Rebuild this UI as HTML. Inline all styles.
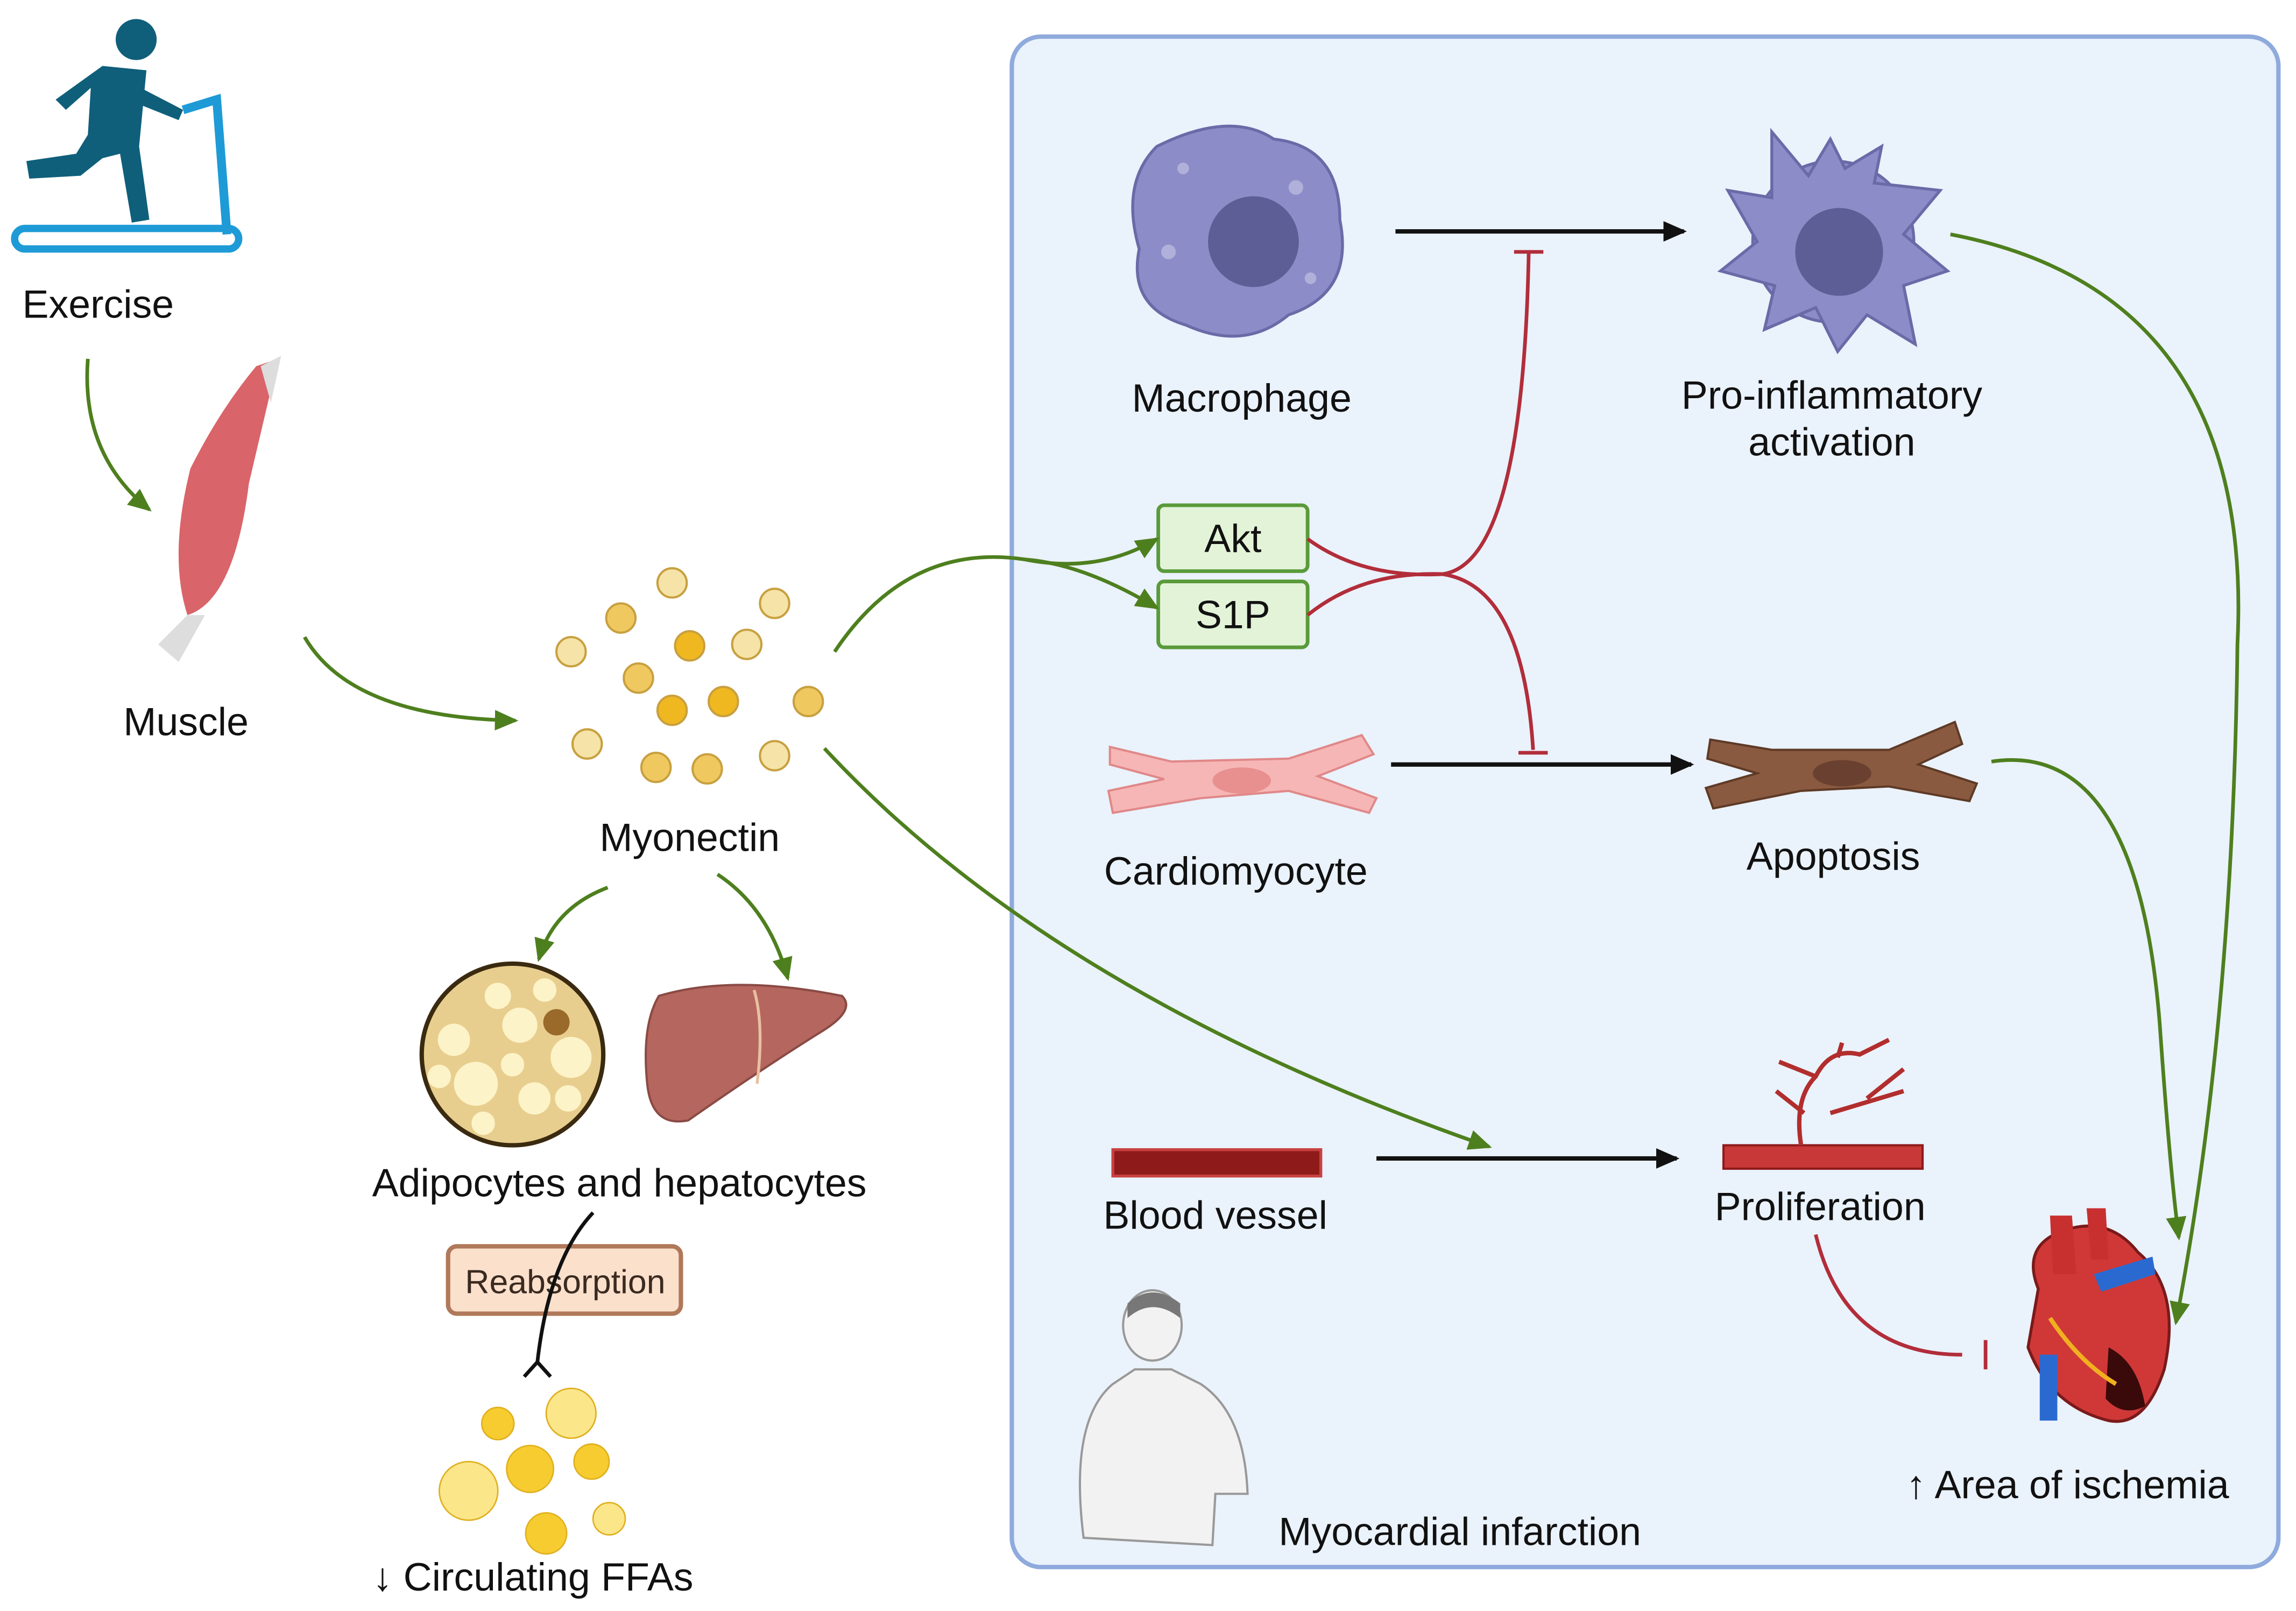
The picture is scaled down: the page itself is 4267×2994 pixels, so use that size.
<!DOCTYPE html>
<html><head><meta charset="utf-8"><style>
html,body{margin:0;padding:0;background:#fff;}
svg{display:block;}
text{font-family:"Liberation Sans",sans-serif;font-size:27px;fill:#111;}
</style></head><body>
<svg width="4267" height="2994" viewBox="0 0 1568 1100" preserveAspectRatio="none" xmlns="http://www.w3.org/2000/svg">
<defs>
<marker id="ba" markerWidth="16" markerHeight="14" refX="14" refY="7" orient="auto" markerUnits="userSpaceOnUse"><path d="M0,0 L16,7 L0,14 z" fill="#111"/></marker>
<marker id="gA" markerWidth="16" markerHeight="14" refX="14" refY="7" orient="auto" markerUnits="userSpaceOnUse"><path d="M0,0 L16,7 L0,14 z" fill="#4E7F1E"/></marker>
</defs>
<rect x="691" y="25" width="865" height="1045" rx="20" fill="#EAF2FB" stroke="#8FAADC" stroke-width="3"/>

<g fill="#0F5F7A">
<circle cx="93" cy="27" r="14"/>
<path d="M70,45 L100,48 L95,100 L102,150 L90,152 L82,105 L70,108 L55,120 L20,122 L18,110 L52,105 L60,92 L62,60 L45,75 L38,68 Z"/>
<path d="M96,60 L125,75 L122,82 L92,70 Z"/>
</g>
<path d="M125,75 L148,68 L155,160" stroke="#1E9BD7" stroke-width="6" fill="none"/>
<rect x="10" y="156" width="153" height="14" rx="7" fill="none" stroke="#1E9BD7" stroke-width="5"/>
<text x="67" y="217" text-anchor="middle">Exercise</text>
<path d="M60,245 Q55,310 102,348" stroke="#4E7F1E" stroke-width="2.5" fill="none" marker-end="url(#gA)"/>

<path d="M175,250 L190,245 L170,330 Q160,410 128,420 Q115,380 130,320 Q150,280 175,250 Z" fill="#D9646A"/>
<path d="M128,420 L108,440 L122,452 L140,420 Z" fill="#ddd"/>
<path d="M178,250 L192,243 L185,275 Z" fill="#ddd"/>
<text x="127" y="502" text-anchor="middle">Muscle</text>
<path d="M208,435 Q240,490 352,492" stroke="#4E7F1E" stroke-width="2.5" fill="none" marker-end="url(#gA)"/>

<g stroke="#C8A040" stroke-width="1.5">
<circle cx="459" cy="398" r="10" fill="#F5E3A8"/><circle cx="529" cy="412" r="10" fill="#F5E3A8"/>
<circle cx="424" cy="422" r="10" fill="#F0C860"/><circle cx="390" cy="445" r="10" fill="#F5E3A8"/>
<circle cx="471" cy="441" r="10" fill="#F0B820"/><circle cx="510" cy="440" r="10" fill="#F5E3A8"/>
<circle cx="436" cy="463" r="10" fill="#F0C860"/><circle cx="459" cy="485" r="10" fill="#F0B820"/>
<circle cx="494" cy="479" r="10" fill="#F0B820"/><circle cx="552" cy="479" r="10" fill="#F0C860"/>
<circle cx="401" cy="508" r="10" fill="#F5E3A8"/><circle cx="448" cy="524" r="10" fill="#F0C860"/>
<circle cx="483" cy="525" r="10" fill="#F0C860"/><circle cx="529" cy="516" r="10" fill="#F5E3A8"/>
</g>
<text x="471" y="581" text-anchor="middle">Myonectin</text>
<path d="M415,606 Q378,620 368,655" stroke="#4E7F1E" stroke-width="2.5" fill="none" marker-end="url(#gA)"/>
<path d="M490,597 Q525,620 538,668" stroke="#4E7F1E" stroke-width="2.5" fill="none" marker-end="url(#gA)"/>

<circle cx="350" cy="720" r="62" fill="#E8CE8E" stroke="#3A2A10" stroke-width="3"/>
<g fill="#FDF3C8">
<circle cx="325" cy="740" r="15"/><circle cx="355" cy="700" r="12"/><circle cx="390" cy="722" r="14"/><circle cx="310" cy="710" r="11"/><circle cx="365" cy="750" r="11"/><circle cx="340" cy="680" r="9"/><circle cx="388" cy="750" r="9"/><circle cx="330" cy="767" r="8"/><circle cx="300" cy="735" r="8"/><circle cx="372" cy="676" r="8"/><circle cx="350" cy="727" r="8"/></g>
<circle cx="380" cy="698" r="9" fill="#9A6A2A"/>
<path d="M450,680 Q500,665 575,680 Q585,690 560,705 Q520,730 470,765 Q445,770 442,740 Q438,700 450,680 Z" fill="#B5665E" stroke="#8A4A44" stroke-width="1.5"/>
<path d="M515,676 Q522,700 517,740" stroke="#E8C0A0" stroke-width="2" fill="none"/>
<text x="423" y="817" text-anchor="middle">Adipocytes and hepatocytes</text>

<rect x="306" y="851" width="159" height="46" rx="6" fill="#FBE0CC" stroke="#B0785A" stroke-width="3"/>
<text x="386" y="883" text-anchor="middle" style="font-size:23px;fill:#3a2a20">Reabsorption</text>
<path d="M405,828 Q375,860 367,930" stroke="#111" stroke-width="2.5" fill="none"/>
<path d="M358,940 L367,930 L376,940" stroke="#111" stroke-width="2.5" fill="none"/>

<g stroke="#E0B020" stroke-width="1">
<circle cx="340" cy="972" r="11" fill="#F7CC30"/><circle cx="390" cy="965" r="17" fill="#FBE68A"/>
<circle cx="320" cy="1018" r="20" fill="#FBE68A"/><circle cx="362" cy="1003" r="16" fill="#F7CC30"/>
<circle cx="404" cy="998" r="12" fill="#F7CC30"/><circle cx="373" cy="1047" r="14" fill="#F7CC30"/>
<circle cx="416" cy="1037" r="11" fill="#FBE68A"/></g>
<text x="364" y="1086" text-anchor="middle">↓ Circulating FFAs</text>

<path d="M790,100 Q840,75 870,95 Q915,100 915,150 Q925,200 880,215 Q850,240 810,222 Q770,210 778,170 Q765,125 790,100 Z" fill="#8C8CC8" stroke="#6A6AA8" stroke-width="2"/>
<circle cx="856" cy="165" r="31" fill="#5E5E96"/>
<circle cx="885" cy="128" r="5" fill="#B0B0DA"/><circle cx="798" cy="172" r="5" fill="#B0B0DA"/><circle cx="808" cy="115" r="4" fill="#B0B0DA"/><circle cx="895" cy="190" r="4" fill="#B0B0DA"/>
<text x="848" y="281" text-anchor="middle">Macrophage</text>
<path d="M953,158 L1150,158" stroke="#111" stroke-width="3" fill="none" marker-end="url(#ba)"/>

<g fill="#8C8CC8" stroke="#6A6AA8" stroke-width="2">
<circle cx="1252" cy="165" r="55"/>
<path d="M1210,90 L1235,120 L1250,95 L1260,115 L1285,100 L1280,125 L1325,130 L1300,160 L1330,185 L1300,195 L1308,235 L1275,215 L1255,240 L1240,210 L1205,225 L1212,195 L1175,185 L1200,165 L1180,130 L1210,135 Z"/>
</g>
<circle cx="1256" cy="172" r="30" fill="#5E5E96"/>
<text x="1251" y="279" text-anchor="middle">Pro-inflammatory</text>
<text x="1251" y="311" text-anchor="middle">activation</text>
<path d="M1332,160 Q1540,200 1528,440 Q1525,700 1486,903" stroke="#4E7F1E" stroke-width="2.5" fill="none" marker-end="url(#gA)"/>

<rect x="791" y="345" width="102" height="45" rx="4" fill="#E2F3D8" stroke="#5A9A3A" stroke-width="2.5"/>
<text x="842" y="377" text-anchor="middle">Akt</text>
<rect x="791" y="397" width="102" height="45" rx="4" fill="#E2F3D8" stroke="#5A9A3A" stroke-width="2.5"/>
<text x="842" y="429" text-anchor="middle">S1P</text>
<path d="M570,445 Q620,370 700,382 Q750,392 790,368" stroke="#4E7F1E" stroke-width="2.5" fill="none" marker-end="url(#gA)"/>
<path d="M700,382 Q740,385 790,415" stroke="#4E7F1E" stroke-width="2.5" fill="none" marker-end="url(#gA)"/>
<g stroke="#B22D3A" stroke-width="2.5" fill="none">
<path d="M893,368 Q930,395 985,392 Q1040,385 1044,172"/><path d="M1034,172 L1054,172"/>
<path d="M893,420 Q930,390 985,392 Q1040,400 1047,512"/><path d="M1037,514 L1057,514"/>
</g>

<path d="M758,510 L800,520 L880,518 L930,502 L938,515 L900,530 L940,545 L935,555 L880,540 L820,545 L760,555 L757,540 L795,532 L758,522 Z" fill="#F7B6B6" stroke="#E08888" stroke-width="1.5"/>
<ellipse cx="848" cy="533" rx="20" ry="9" fill="#E89090"/>
<text x="844" y="604" text-anchor="middle">Cardiomyocyte</text>
<path d="M950,522 L1155,522" stroke="#111" stroke-width="3" fill="none" marker-end="url(#ba)"/>

<path d="M1168,505 L1210,512 L1290,512 L1335,493 L1340,508 L1310,522 L1350,535 L1345,547 L1290,537 L1230,540 L1170,552 L1165,538 L1200,528 L1166,518 Z" fill="#8A5A40" stroke="#5E3A26" stroke-width="1.5"/>
<ellipse cx="1258" cy="528" rx="20" ry="9" fill="#6A4030"/>
<text x="1252" y="594" text-anchor="middle">Apoptosis</text>
<path d="M1360,520 Q1460,505 1475,700 Q1482,800 1488,845" stroke="#4E7F1E" stroke-width="2.5" fill="none" marker-end="url(#gA)"/>

<path d="M563,511 Q720,680 1017,783" stroke="#4E7F1E" stroke-width="2.5" fill="none" marker-end="url(#gA)"/>

<rect x="760" y="785" width="142" height="18" fill="#8E1A1A" stroke="#C84040" stroke-width="2"/>
<text x="830" y="839" text-anchor="middle">Blood vessel</text>
<path d="M940,791 L1145,791" stroke="#111" stroke-width="3" fill="none" marker-end="url(#ba)"/>

<rect x="1177" y="782" width="136" height="16" fill="#C83838" stroke="#8E1A1A" stroke-width="1.5"/>
<g stroke="#B22D2D" stroke-width="3" fill="none">
<path d="M1230,782 Q1225,750 1240,735 Q1250,715 1270,720 L1290,710"/>
<path d="M1240,735 L1215,725 M1255,722 L1258,712 M1250,760 L1300,745 M1275,750 L1300,730 M1232,760 L1213,745"/>
</g>
<text x="1243" y="833" text-anchor="middle">Proliferation</text>
<path d="M1240,843 Q1260,925 1340,925" stroke="#B22D3A" stroke-width="2.5" fill="none"/>
<path d="M1356,915 L1356,935" stroke="#B22D3A" stroke-width="2.5"/>

<path d="M1392,880 Q1380,850 1410,840 Q1440,830 1460,855 Q1490,880 1478,935 Q1465,975 1440,970 Q1400,960 1385,920 Z" fill="#D03838" stroke="#7A1A1A" stroke-width="2"/>
<path d="M1400,830 L1415,830 L1418,870 L1402,870 Z" fill="#C83030"/>
<path d="M1425,825 L1438,825 L1440,860 L1428,860 Z" fill="#C83030"/>
<path d="M1430,870 L1470,858 L1472,870 L1435,882 Z" fill="#2A6AD0"/>
<rect x="1393" y="925" width="12" height="45" fill="#2A6AD0"/>
<path d="M1440,920 Q1460,930 1465,960 Q1450,968 1438,955 Z" fill="#3A0A0A"/>
<path d="M1400,900 Q1420,930 1445,945" stroke="#F0B020" stroke-width="3" fill="none"/>
<text x="1412" y="1023" text-anchor="middle">↑ Area of ischemia</text>

<g fill="#F2F2F2" stroke="#999" stroke-width="1.5">
<path d="M740,1050 Q730,970 760,945 L775,935 L800,935 L820,945 Q850,965 852,1020 L830,1020 L828,1055 Z"/>
<ellipse cx="787" cy="905" rx="20" ry="24"/>
</g>
<path d="M770,890 Q787,875 806,890 L806,900 Q787,885 770,900 Z" fill="#777"/>
<text x="997" y="1055" text-anchor="middle">Myocardial infarction</text>
</svg>
</body></html>
